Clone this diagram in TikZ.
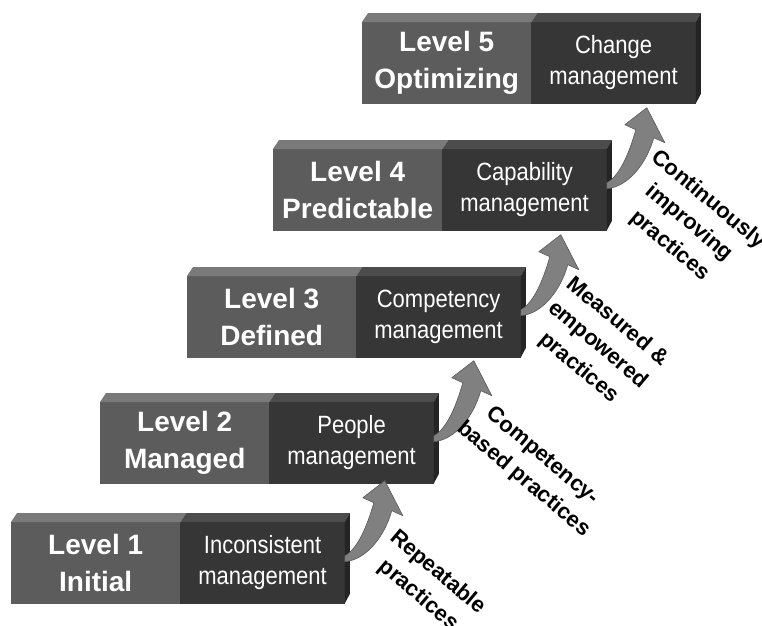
\documentclass[tikz,border=0pt]{standalone}
\usepackage{fontspec}
\setmainfont{Liberation Sans}
\newfontfamily\narrowfont[FakeStretch=0.88]{Liberation Sans}
\usetikzlibrary{calc}

\definecolor{lvlgray}{HTML}{5C5C5C}
\definecolor{mgtgray}{HTML}{363636}
\definecolor{topgray}{HTML}{7A7A7A}
\definecolor{topdark}{HTML}{4C4C4C}
\definecolor{sidegray}{HTML}{242424}

\tikzset{
  lvlbox/.style={fill=lvlgray, draw=lvlgray, minimum width=169pt, minimum height=81pt, anchor=north west,
    inner sep=0pt, text=white, align=center, font=\bfseries\fontsize{28}{37}\selectfont},
  mgtbox/.style={fill=mgtgray, draw=mgtgray, minimum width=164pt, minimum height=81pt, anchor=north west,
    inner sep=0pt, text=white, align=center, font=\narrowfont\fontsize{25}{31}\selectfont},
  practice/.style={rotate=-40, align=center, font=\bfseries\fontsize{22}{30}\selectfont},
  steparrow/.style={fill=gray, draw=black!65, line width=0.6pt, line join=round}
}

\begin{document}
\begin{tikzpicture}[x=1pt,y=-1pt]
  \useasboundingbox (0,0) rectangle (762,625);

  % the five steps
  \foreach \i/\x/\y/\lvl/\mgt in {
      1/11/522/{Level 1\\Initial}/{Inconsistent\\management},
      2/100/402/{Level 2\\Managed}/{People\\management},
      3/187/276/{Level 3\\Defined}/{Competency\\management},
      4/273/149/{Level 4\\Predictable}/{Capability\\management},
      5/362/22/{Level 5\\Optimizing}/{Change\\management}} {
    \node[lvlbox] (lvl\i) at (\x,\y) {\lvl};
    \node[mgtbox] (mgt\i) at (lvl\i.north east) {\mgt};
    \fill[topgray] (lvl\i.north west) -- ++(6,-9) -- ($(lvl\i.north east)+(6,-9)$) -- (lvl\i.north east) -- cycle;
    \fill[topdark] (mgt\i.north west) -- ++(6,-9) -- ($(mgt\i.north east)+(5,-9)$) -- (mgt\i.north east) -- cycle;
    \fill[sidegray] (mgt\i.north east) -- ++(5,-9) -- ++(0,81) -- (mgt\i.south east) -- cycle;
  }

  % curved arrows from one step to the next
  \foreach \i/\j in {1/2,2/3,3/4,4/5} {
    \begin{scope}[shift={($(mgt\i.east)+(0,-5)$)}]
      \filldraw[steparrow] (0,-2) -- (0,4) .. controls (22,2) and (40,-22) .. (47,-47)
        -- (58,-42) -- (40,-77) -- (18,-60) -- (29,-55)
        .. controls (22,-30) and (12,-8) .. (0,-2) -- cycle;
    \end{scope}
  }

  \node[practice] (rep) at (428,584) {Repeatable\\practices};
  \node[practice] (comp) at (533,468) {Competency-\\based practices};
  \node[practice] (meas) at (598,345) {Measured \&\\empowered\\practices};
  \node[practice] (cont) at (689,223) {Continuously\\improving\\practices};
\end{tikzpicture}
\end{document}
